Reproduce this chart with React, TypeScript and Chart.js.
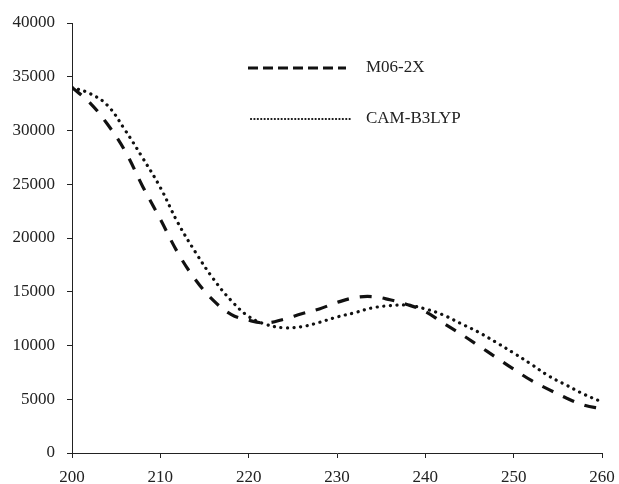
import React, { useEffect, useRef } from "react";
import { Chart, registerables } from "chart.js";

Chart.register(...registerables);

const wavelengths = [200,202,204,206,208,210,212,214,216,218,220,222,224,226,228,230,232,234,236,238,240,242,244,246,248,250,252,254,256,258,260];
const m062xValues = [34000,32600,30600,28100,24800,21750,18600,16100,14200,12900,12350,12100,12450,12950,13400,14000,14450,14550,14250,13800,13150,12100,11080,10000,8900,7800,6750,5900,5100,4450,4100];
const camB3lypValues = [34000,33450,32350,30050,27450,24700,21400,18650,16200,14200,12700,11950,11650,11750,12150,12650,13050,13500,13700,13750,13400,12850,12050,11250,10300,9300,8250,7150,6300,5450,4750];
const seriesNames = ["M06-2X", "CAM-B3LYP"];
const xTicks = { min: 200, max: 260, step: 10 };
const yTicks = { min: 0, max: 40000, step: 5000 };

const FONT = "'Liberation Serif', 'Times New Roman', serif";

const legendPlugin = {
  id: "insideLegend",
  afterDraw(chart: any) {
    const ctx = chart.ctx;
    const items = [
      { label: seriesNames[0], y: 68, x0: 248, x1: 346, dash: [10, 5], width: 2.8, cap: "butt" },
      { label: seriesNames[1], y: 119, x0: 251, x1: 350, dash: [0.1, 3.3], width: 2.2, cap: "round" },
    ];
    ctx.save();
    items.forEach((it) => {
      ctx.beginPath();
      ctx.setLineDash(it.dash);
      ctx.lineWidth = it.width;
      ctx.lineCap = it.cap;
      ctx.strokeStyle = "#111";
      ctx.moveTo(it.x0, it.y);
      ctx.lineTo(it.x1, it.y);
      ctx.stroke();
      ctx.setLineDash([]);
      ctx.fillStyle = "#222";
      ctx.font = `17px ${FONT}`;
      ctx.textBaseline = "middle";
      ctx.textAlign = "left";
      ctx.fillText(it.label, 366, it.y);
    });
    ctx.restore();
  },
};

export default function App() {
  const ref = useRef<HTMLCanvasElement | null>(null);
  useEffect(() => {
    document.body.style.margin = "0";
    const canvas = ref.current!;
    const chart = new Chart(canvas, {
      type: "line",
      data: {
        datasets: [
          {
            label: seriesNames[0],
            data: wavelengths.map((x, i) => ({ x, y: m062xValues[i] })),
            borderColor: "#111",
            borderWidth: 3.2,
            borderDash: [12, 11],
            pointRadius: 0,
            tension: 0.4,
            fill: false,
          },
          {
            label: seriesNames[1],
            data: wavelengths.map((x, i) => ({ x, y: camB3lypValues[i] })),
            borderColor: "#111",
            borderWidth: 3.2,
            borderDash: [0.1, 6.5],
            borderCapStyle: "round",
            pointRadius: 0,
            tension: 0.4,
            fill: false,
          },
        ],
      },
      options: {
        animation: false,
        responsive: false,
        maintainAspectRatio: false,
        layout: { padding: { left: 0, right: 17, top: 23, bottom: 0 } },
        plugins: { legend: { display: false }, tooltip: { enabled: false } },
        scales: {
          x: {
            type: "linear",
            min: xTicks.min,
            max: xTicks.max,
            afterFit: (s: any) => { s.height = 31; s.paddingLeft = 0; s.paddingRight = 0; },
            ticks: { stepSize: xTicks.step, color: "#222", font: { family: FONT, size: 17 }, padding: 9, maxRotation: 0, callback: (v: any) => String(v) },
            grid: { drawOnChartArea: false, drawTicks: true, tickLength: 5, color: "#222" },
            border: { display: true, color: "#222", width: 1 },
          },
          y: {
            min: yTicks.min,
            max: yTicks.max,
            afterFit: (s: any) => { s.width = 72; s.paddingTop = 0; s.paddingBottom = 0; },
            ticks: { stepSize: yTicks.step, color: "#222", font: { family: FONT, size: 17 }, padding: 12, callback: (v: any) => String(v) },
            grid: { drawOnChartArea: false, drawTicks: true, tickLength: 5, color: "#222" },
            border: { display: true, color: "#222", width: 1 },
          },
        },
      },
      plugins: [legendPlugin],
    });
    return () => chart.destroy();
  }, []);
  return <canvas ref={ref} width={619} height={484} style={{ display: "block" }} />;
}
